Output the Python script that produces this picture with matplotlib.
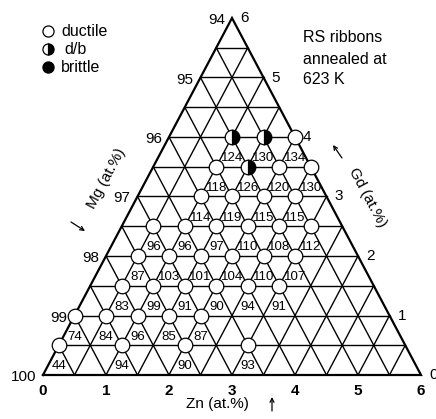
import matplotlib
matplotlib.use("Agg")
import matplotlib.pyplot as plt

plt.rcParams['font.family'] = ['Liberation Sans', 'DejaVu Sans']

# ---- data ----
gd_vals = [0.5, 0.5, 0.5, 0.5,
           1, 1, 1, 1, 1,
           1.5, 1.5, 1.5, 1.5, 1.5, 1.5,
           2, 2, 2, 2, 2, 2,
           2.5, 2.5, 2.5, 2.5, 2.5, 2.5,
           3, 3, 3, 3,
           3.5, 3.5, 3.5, 3.5,
           4, 4, 4]
zn_vals = [0, 1, 2, 3,
           0, 0.5, 1, 1.5, 2,
           0.5, 1, 1.5, 2, 2.5, 3,
           0.5, 1, 1.5, 2, 2.5, 3,
           0.5, 1, 1.5, 2, 2.5, 3,
           1, 1.5, 2, 2.5,
           1, 1.5, 2, 2.5,
           1, 1.5, 2]
hardness = [44, 94, 90, 93,
            74, 84, 96, 85, 87,
            83, 99, 91, 90, 94, 91,
            87, 103, 101, 104, 110, 107,
            96, 96, 97, 110, 108, 112,
            114, 119, 115, 115,
            118, 126, 120, 130,
            124, 130, 134]
state = ['d', 'd', 'd', 'd',
         'd', 'd', 'd', 'd', 'd',
         'd', 'd', 'd', 'd', 'd', 'd',
         'd', 'd', 'd', 'd', 'd', 'd',
         'd', 'd', 'd', 'd', 'd', 'd',
         'd', 'd', 'd', 'd',
         'd', 'db', 'd', 'd',
         'db', 'db', 'd']

ticks = [0, 1, 2, 3, 4, 5, 6]
mg_labels = ['100', '99', '98', '97', '96', '95', '94']
gd_labels = ['0', '1', '2', '3', '4', '5', '6']
zn_labels = ['0', '1', '2', '3', '4', '5', '6']
legend_labels = ['ductile', 'd/b', 'brittle']

# ---- geometry (pixel mapping) ----
X0, Y0, SX, SY = 43.0, 375.0, 63.0, 59.5
W, H = 436, 419

fig = plt.figure(figsize=(W / 100, H / 100), dpi=100)
ax = fig.add_axes([0, 0, 1, 1])
ax.set_xlim(-X0 / SX, (W - X0) / SX)
ax.set_ylim((Y0 - H) / SY, Y0 / SY)
ax.axis('off')


def tern(zn, gd):
    return zn + gd / 2.0, gd


def pix(px, py):
    return (px - X0) / SX, (Y0 - py) / SY


dx = 1.0 / SX
dy = 1.0 / SY

# grid lines
n = 12
step = 0.5
for k in range(1, n):
    v = k * step
    a = tern(0, v); b = tern(6 - v, v)
    ax.plot([a[0], b[0]], [a[1], b[1]], color='black', lw=1.0, zorder=1)
    a = tern(v, 0); b = tern(v, 6 - v)
    ax.plot([a[0], b[0]], [a[1], b[1]], color='black', lw=1.0, zorder=1)
    a = tern(v, 0); b = tern(0, v)
    ax.plot([a[0], b[0]], [a[1], b[1]], color='black', lw=1.0, zorder=1)

# outer triangle
corners = [tern(0, 0), tern(6, 0), tern(0, 6), tern(0, 0)]
ax.plot([c[0] for c in corners], [c[1] for c in corners], color='black',
        lw=1.6, zorder=2, solid_joinstyle='miter')

# tick labels
for t, lab in zip(ticks, mg_labels):
    x, y = tern(0, t)
    ax.text(x - 7 * dx, y - 2 * dy, lab, ha='right', va='center', fontsize=11)
for t, lab in zip(ticks, gd_labels):
    x, y = tern(6 - t, t)
    ax.text(x + 8 * dx, y, lab, ha='left', va='center', fontsize=11)
for t, lab in zip(ticks, zn_labels):
    x, y = tern(t, 0)
    ax.text(x, y - 16 * dy, lab, ha='center', va='center', fontsize=11,
            fontweight='bold')

# axis titles
px, py = pix(106, 178)
ax.text(px, py, 'Mg (at.%)', rotation=62, ha='center', va='center', fontsize=11)
px, py = pix(367, 198)
ax.text(px, py, 'Gd (at.%)', rotation=-62, ha='center', va='center', fontsize=11)
px, py = pix(217, 404)
ax.text(px, py, 'Zn (at.%)', ha='center', va='center', fontsize=11)

arrow_kw = dict(arrowstyle='->', lw=0.9, color='black', shrinkA=0, shrinkB=0,
                mutation_scale=7)
ax.annotate('', xy=pix(85, 231), xytext=pix(71, 222), arrowprops=arrow_kw)
ax.annotate('', xy=pix(333, 145), xytext=pix(342, 158), arrowprops=arrow_kw)
ax.annotate('', xy=pix(272, 397), xytext=pix(272, 411), arrowprops=arrow_kw)

# data points
for g, z, h, s in zip(gd_vals, zn_vals, hardness, state):
    x, y = tern(z, g)
    if s == 'db':
        ax.plot(x, y, marker='o', markersize=10.5, fillstyle='right',
                markerfacecolor='black', markerfacecoloralt='white',
                markeredgecolor='black', markeredgewidth=0.9, zorder=4)
    elif s == 'b':
        ax.plot(x, y, marker='o', markersize=10.5, markerfacecolor='black',
                markeredgecolor='black', markeredgewidth=0.9, zorder=4)
    else:
        ax.plot(x, y, marker='o', markersize=10.5, markerfacecolor='white',
                markeredgecolor='black', markeredgewidth=0.9, zorder=4)
    ax.text(x, y - 21 * dy, str(h), ha='center', va='center', fontsize=9.5,
            zorder=5)

# legend
leg_y = [31, 49, 67]
leg_x = [61, 64, 61]
for i, lab in enumerate(legend_labels):
    mx, my = pix(48, leg_y[i])
    if i == 0:
        ax.plot(mx, my, marker='o', markersize=8, markerfacecolor='white',
                markeredgecolor='black', markeredgewidth=0.9)
    elif i == 1:
        ax.plot(mx, my, marker='o', markersize=8, fillstyle='right',
                markerfacecolor='black', markerfacecoloralt='white',
                markeredgecolor='black', markeredgewidth=0.9)
    else:
        ax.plot(mx, my, marker='o', markersize=8, markerfacecolor='black',
                markeredgecolor='black', markeredgewidth=0.9)
    tx, ty = pix(leg_x[i], leg_y[i])
    ax.text(tx, ty, lab, ha='left', va='center', fontsize=11.5)

# annotation
for i, line in enumerate(['RS ribbons', 'annealed at', '623 K']):
    tx, ty = pix(303, 38 + 21 * i)
    ax.text(tx, ty, line, ha='left', va='center', fontsize=11.5)

fig.savefig('out.png', dpi=100)
